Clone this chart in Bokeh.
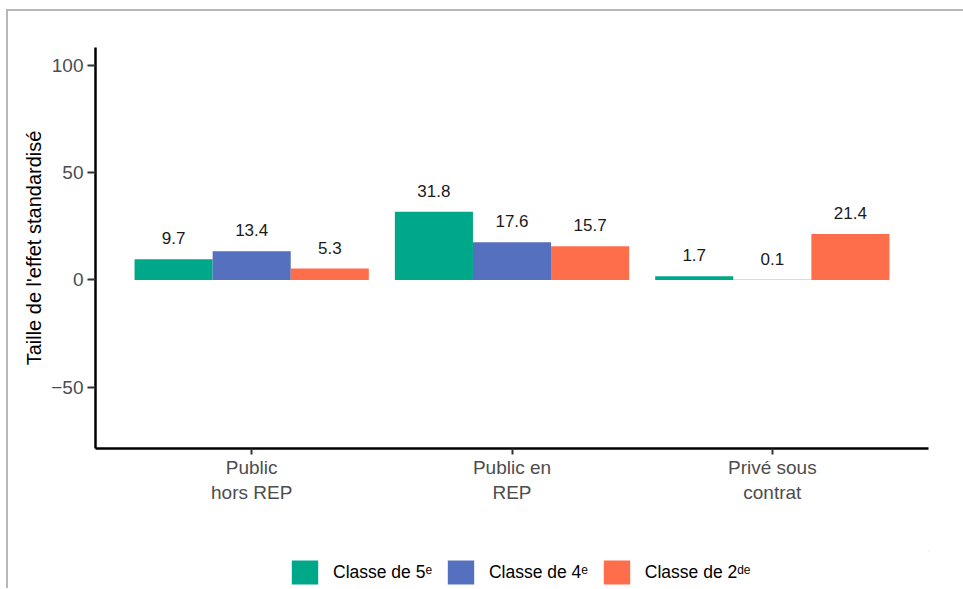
from bokeh.plotting import figure
from bokeh.layouts import column
from bokeh.models import ColumnDataSource, FactorRange, FixedTicker, Legend, LegendItem, Range1d
from bokeh.transform import dodge
from bokeh.embed import file_html
from bokeh.resources import INLINE
from bokeh.core.properties import value

# ---- data ----
categories = ["Public\nhors REP", "Public en\nREP", "Privé sous\ncontrat"]
classe_5e = [9.7, 31.8, 1.7]
classe_4e = [13.4, 17.6, 0.1]
classe_2de = [5.3, 15.7, 21.4]
series_names = ["Classe de 5ᵉ", "Classe de 4ᵉ", "Classe de 2ᵈᵉ"]
colors = ["#00A88A", "#5570BE", "#FF6E4B"]
y_ticks = [-50, 0, 50, 100]
y_title = "Taille de l'effet standardisé"

FONT = "Liberation Sans"

src = ColumnDataSource(dict(
    cat=categories,
    c5=classe_5e, c4=classe_4e, c2=classe_2de,
    l5=[f"{v:.1f}" for v in classe_5e],
    l4=[f"{v:.1f}" for v in classe_4e],
    l2=[f"{v:.1f}" for v in classe_2de],
))

p = figure(
    x_range=FactorRange(factors=categories, range_padding=0.2 / 3, range_padding_units="percent"),
    y_range=Range1d(-78.6, 108.4),
    width=955, height=540,
    output_backend="svg", toolbar_location=None,
    min_border_left=87, min_border_right=35, min_border_top=36, min_border_bottom=103,
)

keys = [("c5", "l5"), ("c4", "l4"), ("c2", "l2")]
offsets = [-0.3, 0.0, 0.3]
for (k, lk), off, col in zip(keys, offsets, colors):
    p.vbar(x=dodge("cat", off, range=p.x_range), top=k, bottom=0, width=0.3,
           source=src, fill_color=col, line_color=None)
    p.text(x=dodge("cat", off, range=p.x_range), y=k, text=lk, source=src,
           text_align="center", text_baseline="middle", y_offset=-21,
           text_font=value(FONT), text_font_size="17px", text_color="#1a1a1a")

p.xgrid.visible = False
p.ygrid.visible = False
p.outline_line_color = None
p.background_fill_color = "white"
p.border_fill_color = "white"

for ax in (p.xaxis[0], p.yaxis[0]):
    ax.axis_line_color = "black"
    ax.axis_line_width = 2.5
    ax.major_tick_line_color = "#333333"
    ax.major_tick_line_width = 2
    ax.major_tick_in = 0
    ax.minor_tick_line_color = None
    ax.major_label_text_font = FONT
    ax.major_label_text_font_size = "19px"
    ax.major_label_text_color = "#4D4D4D"

p.xaxis.major_tick_out = 6
p.xaxis.major_label_standoff = 2
p.yaxis.major_tick_out = 8
p.yaxis.major_label_standoff = 4
p.yaxis.ticker = FixedTicker(ticks=y_ticks)
p.yaxis.major_label_overrides = {-50: "\u221250"}
p.yaxis.axis_label = y_title
p.yaxis.axis_label_text_font = FONT
p.yaxis.axis_label_text_font_size = "20px"
p.yaxis.axis_label_text_font_style = "normal"
p.yaxis.axis_label_text_color = "black"
p.yaxis.axis_label_standoff = 3

# ---- legend strip below the chart ----
leg = figure(
    width=955, height=37, x_range=Range1d(0, 1), y_range=Range1d(0, 1),
    output_backend="svg", toolbar_location=None,
    x_axis_location=None, y_axis_location=None,
    min_border=0, min_border_left=0, min_border_right=0, min_border_top=0, min_border_bottom=0,
)
leg.xgrid.visible = False
leg.ygrid.visible = False
leg.outline_line_color = None
leg.border_fill_color = "white"
leg.background_fill_color = "white"
# legend-only renderers, kept outside the visible range of this strip
dummy = [leg.vbar(x=[5], top=[6], bottom=[5], width=0.1, fill_color=c, line_color=None)
         for c in colors]

legend = Legend(
    items=[LegendItem(label=n, renderers=[r]) for n, r in zip(series_names, dummy)],
    location=(193, 1), orientation="horizontal",
    border_line_color=None, background_fill_alpha=0,
    padding=0, margin=0, spacing=12, label_standoff=12,
    glyph_width=33, glyph_height=30,
    label_text_font=FONT, label_text_font_size="17.5px", label_text_color="black",
)
leg.add_layout(legend, "center")

layout = column(p, leg, spacing=0,
                styles={"border-top": "2px solid #b8b8b8", "border-left": "2px solid #b8b8b8",
                        "margin-left": "6px", "margin-top": "9px"})

open("out.html", "w").write(file_html(layout, INLINE))
